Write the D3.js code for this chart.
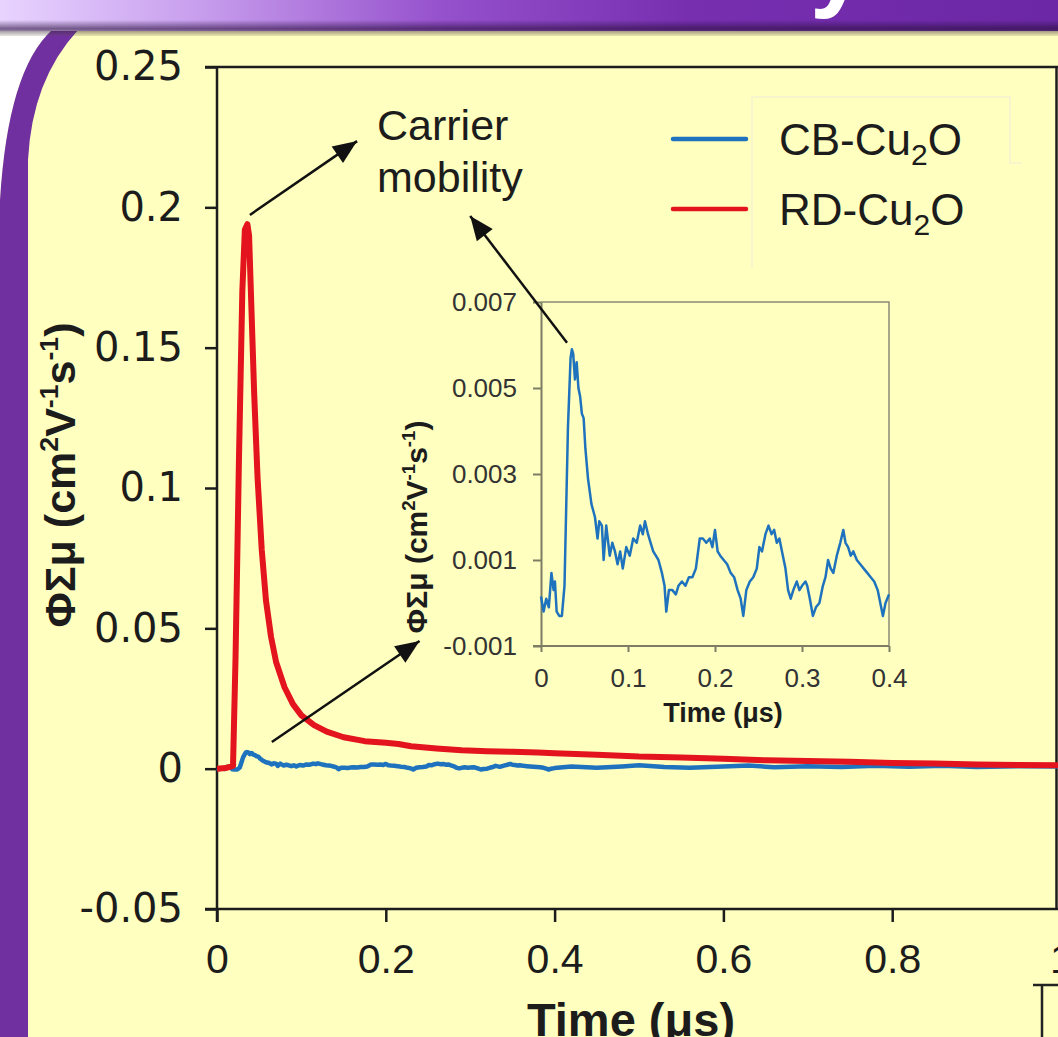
<!DOCTYPE html>
<html>
<head>
<meta charset="utf-8">
<script src="https://cdn.jsdelivr.net/npm/d3@7/dist/d3.min.js"></script>
<style>
  body { margin: 0; background: #fff; }
  svg { display: block; }
</style>
</head>
<body>
<svg id="chart" width="1058" height="1037"></svg>
<script>
// ---- data ----
const rdTime = [0, 0.010, 0.019, 0.022, 0.026, 0.030, 0.033, 0.036, 0.038, 0.041, 0.044, 0.048, 0.053, 0.058,
  0.064, 0.070, 0.080, 0.090, 0.100, 0.115, 0.130, 0.150, 0.175, 0.200, 0.215, 0.230, 0.260, 0.290, 0.320,
  0.350, 0.380, 0.400, 0.450, 0.500, 0.550, 0.600, 0.650, 0.700, 0.750, 0.800, 0.850, 0.900, 0.950, 1.000];
const rdValue = [0, 0.0002, 0.001, 0.040, 0.110, 0.170, 0.192, 0.194, 0.190, 0.162, 0.134, 0.104, 0.078, 0.060,
  0.047, 0.038, 0.029, 0.023, 0.019, 0.0155, 0.0132, 0.0112, 0.0098, 0.0092, 0.0088, 0.008, 0.0072, 0.0066, 0.0062,
  0.006, 0.0058, 0.0055, 0.005, 0.0043, 0.004, 0.0035, 0.003, 0.0027, 0.0025, 0.002, 0.0018, 0.0015, 0.0013, 0.0012];

const cbTime = [0.000, 0.003, 0.006, 0.009, 0.012, 0.0145, 0.016, 0.018, 0.021, 0.024, 0.027, 0.031, 0.034, 0.0355,
  0.037, 0.039, 0.041, 0.043, 0.045, 0.047, 0.049, 0.051, 0.054, 0.058, 0.062, 0.065, 0.067, 0.070, 0.072, 0.075,
  0.079, 0.082, 0.085, 0.088, 0.091, 0.094, 0.098, 0.102, 0.106, 0.110, 0.114, 0.117, 0.1195, 0.123, 0.126, 0.129,
  0.132, 0.135, 0.139, 0.142, 0.144, 0.147, 0.151, 0.155, 0.158, 0.162, 0.166, 0.170, 0.174, 0.178, 0.1825, 0.186,
  0.190, 0.194, 0.197, 0.200, 0.203, 0.206, 0.210, 0.214, 0.218, 0.222, 0.226, 0.2295, 0.2325, 0.236, 0.240, 0.244,
  0.248, 0.251, 0.254, 0.258, 0.2615, 0.265, 0.268, 0.271, 0.274, 0.278, 0.281, 0.284, 0.287, 0.290, 0.294, 0.297,
  0.300, 0.304, 0.306, 0.309, 0.3125, 0.316, 0.320, 0.324, 0.327, 0.330, 0.333, 0.336, 0.340, 0.344, 0.3475, 0.350,
  0.353, 0.356, 0.359, 0.363, 0.367, 0.371, 0.375, 0.379, 0.383, 0.387, 0.390, 0.393, 0.396, 0.400,
  0.42, 0.45, 0.48, 0.50, 0.53, 0.56, 0.60, 0.63, 0.66, 0.70, 0.74, 0.78, 0.82, 0.86, 0.90, 0.95, 1.00];
const cbValue = [0.00015, -0.0002, 0.0001, -0.0001, 0.0007, 0.0003, 0.0005, -0.0002, -0.0003, -0.0003, 0.0004, 0.0041, 0.0057, 0.0059,
  0.0058, 0.0052, 0.0056, 0.0050, 0.0048, 0.0044, 0.0043, 0.0036, 0.0029, 0.0023, 0.0020, 0.0015, 0.0019, 0.0018, 0.0010, 0.0018,
  0.0011, 0.0014, 0.0012, 0.0009, 0.0012, 0.0008, 0.0013, 0.0011, 0.0015, 0.0014, 0.0018, 0.0016, 0.0019, 0.0016, 0.0014, 0.0012,
  0.0011, 0.0010, 0.0007, 0.0004, -0.0002, 0.0003, 0.0003, 0.0002, 0.0004, 0.0005, 0.0004, 0.0006, 0.0006, 0.0008, 0.0015, 0.0015,
  0.0014, 0.0015, 0.0013, 0.0017, 0.0012, 0.0011, 0.0010, 0.0009, 0.0007, 0.0006, 0.0003, 0.0001, -0.0003, 0.0003, 0.0005, 0.0006,
  0.0008, 0.0013, 0.0012, 0.0016, 0.0018, 0.0016, 0.0017, 0.0014, 0.0015, 0.0011, 0.0008, 0.0003, 0.0001, 0.0003, 0.0005, 0.0003,
  0.0004, 0.0005, 0.0004, 0.0001, -0.0003, -0.0001, 0.0000, 0.0004, 0.0006, 0.0010, 0.0008, 0.0007, 0.0011, 0.0014, 0.0017, 0.0014,
  0.0013, 0.0011, 0.0012, 0.0010, 0.0009, 0.0008, 0.0007, 0.0006, 0.0005, 0.0003, 0.0000, -0.0003, 0.0000, 0.0002,
  0.0008, 0.0003, 0.0008, 0.0012, 0.0006, 0.0003, 0.0008, 0.0011, 0.0005, 0.0009, 0.0006, 0.0010, 0.0007, 0.0010, 0.0006, 0.0009, 0.0008];

const seriesLabels = ["CB-Cu2O", "RD-Cu2O"];
const seriesColors = ["#1f72bd", "#e3141d"];

const mainXTicks = [0, 0.2, 0.4, 0.6, 0.8, 1];
const mainXLabels = ["0", "0.2", "0.4", "0.6", "0.8", "1"];
const mainYTicks = [-0.05, 0, 0.05, 0.1, 0.15, 0.2, 0.25];
const mainYLabels = ["-0.05", "0", "0.05", "0.1", "0.15", "0.2", "0.25"];
const insetXTicks = [0, 0.1, 0.2, 0.3, 0.4];
const insetXLabels = ["0", "0.1", "0.2", "0.3", "0.4"];
const insetYTicks = [-0.001, 0.001, 0.003, 0.005, 0.007];
const insetYLabels = ["-0.001", "0.001", "0.003", "0.005", "0.007"];

const xTitle = "Time (μs)";
const annotation = ["Carrier", "mobility"];

// ---- layout ----
const svg = d3.select("#chart");
const W = 1058, H = 1037;
const yellow = "#ffffbf";
const purple = "#7030a0";
const sans = "Arial, 'Liberation Sans', sans-serif";

const defs = svg.append("defs");
const bandGrad = defs.append("linearGradient").attr("id", "band").attr("x1", 0).attr("x2", 1).attr("y1", 0).attr("y2", 0);
[["0%", "#e8d4ff"], ["18%", "#c9a0ee"], ["42%", "#9550cc"], ["65%", "#772fb0"], ["100%", "#6b27a5"]]
  .forEach(s => bandGrad.append("stop").attr("offset", s[0]).attr("stop-color", s[1]));
const shadeGrad = defs.append("linearGradient").attr("id", "shade").attr("x1", 0).attr("x2", 0).attr("y1", 0).attr("y2", 1);
[["0%", "rgba(40,15,60,0)"], ["55%", "rgba(40,15,60,0.6)"], ["100%", "rgba(90,80,60,0.15)"]]
  .forEach(s => shadeGrad.append("stop").attr("offset", s[0]).attr("stop-color", s[1]));

// background panel
svg.append("rect").attr("width", W).attr("height", H).attr("fill", yellow);
// white outside rounded corner + left purple border
svg.append("path").attr("d", "M0,30 L52,30 Q8,70 0,200 Z").attr("fill", "#fff");
svg.append("path").attr("d", "M52,30 L78,30 Q32,80 28,160 L28,1037 L0,1037 L0,200 Q8,70 52,30 Z").attr("fill", purple);
// top band
svg.append("rect").attr("width", W).attr("height", 31).attr("fill", "url(#band)");
svg.append("rect").attr("y", 20).attr("width", W).attr("height", 16).attr("fill", "url(#shade)");
svg.append("text").attr("x", 810).attr("y", -2).attr("font-family", sans)
  .attr("font-weight", "bold").attr("font-size", 100).attr("fill", "#fff").text("y");

// ---- main chart ----
const x = d3.scaleLinear().domain([0, 1]).range([217, 1061]);
const y = d3.scaleLinear().domain([-0.05, 0.25]).range([909, 67]);
const ink = "#1c1c1c";

const gMain = svg.append("g");
// frame top/right
gMain.append("line").attr("x1", 205).attr("x2", W).attr("y1", y(0.25)).attr("y2", y(0.25))
  .attr("stroke", ink).attr("stroke-width", 2.5);
gMain.append("line").attr("x1", W - 1.5).attr("x2", W - 1.5).attr("y1", y(0.25)).attr("y2", y(-0.05))
  .attr("stroke", ink).attr("stroke-width", 2.5);

const yAxis = gMain.append("g").attr("transform", `translate(${x(0)},0)`)
  .call(d3.axisLeft(y).tickValues(mainYTicks).tickFormat((d, i) => mainYLabels[i]).tickSize(12).tickPadding(22).tickSizeOuter(0));
const xAxis = gMain.append("g").attr("transform", `translate(0,${y(-0.05)})`)
  .call(d3.axisBottom(x).tickValues(mainXTicks).tickFormat((d, i) => mainXLabels[i]).tickSize(13).tickPadding(22).tickSizeOuter(0));
[yAxis, xAxis].forEach(a => {
  a.select(".domain").attr("stroke", ink).attr("stroke-width", 2.5);
  a.selectAll(".tick line").attr("stroke", ink).attr("stroke-width", 2.5);
});
yAxis.select(".domain").attr("d", `M0,${y(0.25)}V${y(-0.05) + 13}`);
xAxis.select(".domain").attr("d", `M${x(0) - 12},0H${W}`);
yAxis.selectAll(".tick text").attr("font-family", "'DejaVu Sans', sans-serif").attr("font-size", 40).attr("fill", ink);
xAxis.selectAll(".tick text").attr("font-family", sans).attr("font-size", 41).attr("fill", ink);

gMain.append("text").attr("x", 631).attr("y", 1036).attr("text-anchor", "middle")
  .attr("font-family", sans).attr("font-weight", "bold").attr("font-size", 47)
  .attr("fill", ink).text(xTitle);

function unitTitle(g, cx, cy, size) {
  const t = g.append("text").attr("transform", `translate(${cx},${cy}) rotate(-90)`).attr("text-anchor", "middle")
    .attr("font-family", sans).attr("font-weight", "bold").attr("font-size", size).attr("fill", ink);
  const parts = [["ΦΣμ (cm", 0], ["2", 1], ["V", 0], ["-1", 1], ["s", 0], ["-1", 1], [")", 0]];
  let prev = 0;
  parts.forEach(p => {
    const shift = p[1] ? -0.4 * size : 0;
    t.append("tspan").attr("dy", shift - prev).attr("font-size", p[1] ? size * 0.62 : size).text(p[0]);
    prev = shift;
  });
  return t;
}
unitTitle(gMain, 75, 475, 43);

const line = d3.line().x(d => x(d[0])).y(d => y(d[1]));
const cbPts = cbTime.map((t, i) => [t, cbValue[i]]);
const rdPts = rdTime.map((t, i) => [t, rdValue[i]]);
gMain.append("path").attr("d", line(cbPts)).attr("fill", "none").attr("stroke", seriesColors[0])
  .attr("stroke-width", 4.5).attr("stroke-linejoin", "round");
gMain.append("path").attr("d", line(rdPts)).attr("fill", "none").attr("stroke", seriesColors[1])
  .attr("stroke-width", 6).attr("stroke-linejoin", "round");

// legend
svg.append("path").attr("d", "M752,268 V97 H1010 V163 H1022").attr("fill", "none").attr("stroke", "#f3f2cf").attr("stroke-width", 1.5);
seriesLabels.forEach((lab, i) => {
  const ly = 139 + i * 70;
  svg.append("line").attr("x1", 673).attr("x2", 746).attr("y1", ly).attr("y2", ly)
    .attr("stroke", seriesColors[i]).attr("stroke-width", 4.5).attr("stroke-linecap", "round");
  const t = svg.append("text").attr("x", 779).attr("y", ly + 16).attr("font-family", sans)
    .attr("font-size", 44).attr("fill", ink);
  const k = lab.indexOf("2");
  t.append("tspan").text(lab.slice(0, k));
  t.append("tspan").attr("font-size", 30).attr("dy", 10).text("2");
  t.append("tspan").attr("dy", -10).text(lab.slice(k + 1));
});

// annotation text
annotation.forEach((s, i) => {
  svg.append("text").attr("x", 377).attr("y", 140 + i * 52).attr("font-family", sans)
    .attr("font-size", 43).attr("fill", ink).text(s);
});

// ---- inset ----
const xi = d3.scaleLinear().domain([0, 0.4]).range([541, 889]);
const yi = d3.scaleLinear().domain([-0.001, 0.007]).range([646, 302]);
const insetInk = "#7d7d66";
const gIn = svg.append("g");
gIn.append("path").attr("d", `M${xi(0)},${yi(0.007)}H${xi(0.4)}V${yi(-0.001)}`).attr("fill", "none")
  .attr("stroke", "#8c8c78").attr("stroke-width", 1.5);
const yiAxis = gIn.append("g").attr("transform", `translate(${xi(0)},0)`)
  .call(d3.axisLeft(yi).tickValues(insetYTicks).tickFormat((d, i) => insetYLabels[i]).tickSize(8).tickPadding(16).tickSizeOuter(0));
const xiAxis = gIn.append("g").attr("transform", `translate(0,${yi(-0.001)})`)
  .call(d3.axisBottom(xi).tickValues(insetXTicks).tickFormat((d, i) => insetXLabels[i]).tickSize(6).tickPadding(17).tickSizeOuter(0));
[yiAxis, xiAxis].forEach(a => {
  a.select(".domain").attr("stroke", insetInk).attr("stroke-width", 2);
  a.selectAll(".tick line").attr("stroke", insetInk).attr("stroke-width", 2);
  a.selectAll(".tick text").attr("font-family", sans).attr("font-size", 26).attr("fill", "#333");
});
xiAxis.select(".domain").attr("d", `M${xi(0) - 8},0H${xi(0.4)}`);

gIn.append("text").attr("x", 723).attr("y", 722).attr("text-anchor", "middle")
  .attr("font-family", sans).attr("font-weight", "bold").attr("font-size", 27)
  .attr("fill", ink).text(xTitle);
unitTitle(gIn, 427, 527, 30);

const lineI = d3.line().x(d => xi(d[0])).y(d => yi(d[1]));
gIn.append("path").attr("d", lineI(cbPts.filter(d => d[0] <= 0.4))).attr("fill", "none")
  .attr("stroke", seriesColors[0]).attr("stroke-width", 2.5).attr("stroke-linejoin", "round");

// ---- arrows ----
function arrow(p0, p1) {
  svg.append("line").attr("x1", p0[0]).attr("y1", p0[1]).attr("x2", p1[0]).attr("y2", p1[1])
    .attr("stroke", "#111").attr("stroke-width", 2.5);
  const a = Math.atan2(p1[1] - p0[1], p1[0] - p0[0]);
  const L = 24, Wd = 10;
  const bx = p1[0] - L * Math.cos(a), by = p1[1] - L * Math.sin(a);
  const pts = [p1, [bx + Wd * Math.sin(a), by - Wd * Math.cos(a)], [bx - Wd * Math.sin(a), by + Wd * Math.cos(a)]];
  svg.append("polygon").attr("points", pts.map(p => p.join(",")).join(" ")).attr("fill", "#111");
}
arrow([x(0.039), y(0.1973)], [x(0.166), y(0.2236)]);
arrow([xi(0.0299), yi(0.00605)], [x(0.3), y(0.1969)]);
arrow([x(0.065), y(0.0095)], [x(0.24), y(0.0455)]);

// stray frame corner at bottom right
svg.append("path").attr("d", "M1033,985 H1058 M1042,985 V1037").attr("stroke", "#222").attr("stroke-width", 2.5).attr("fill", "none");
</script>
</body>
</html>
